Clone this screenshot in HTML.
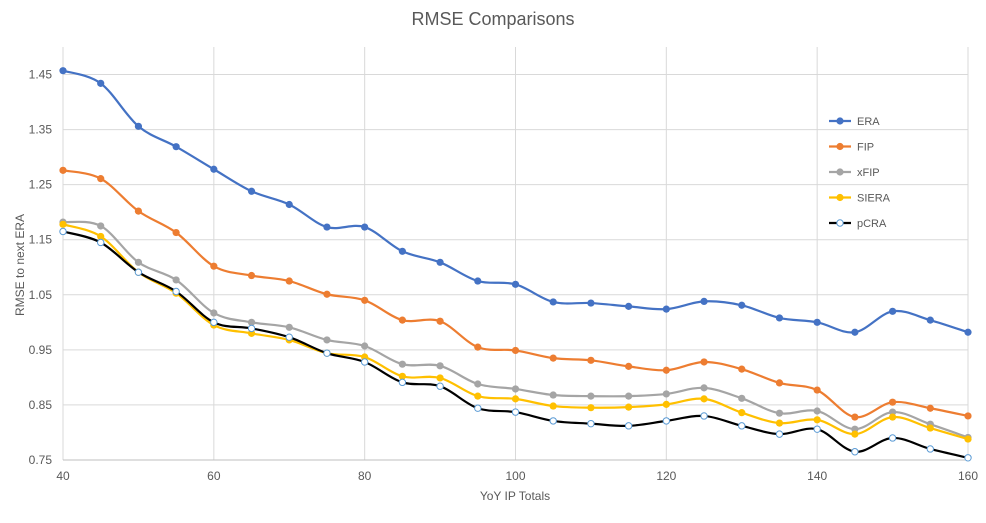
<!DOCTYPE html>
<html><head><meta charset="utf-8"><style>
body{margin:0;background:#fff;font-family:"Liberation Sans",sans-serif;}
svg text{font-family:"Liberation Sans",sans-serif;fill:#595959;}
</style></head><body>
<svg id="chart" width="986" height="518">
<text x="493" y="25" font-size="18" text-anchor="middle">RMSE Comparisons</text>
<g id="grid"></g><g id="axes"></g><g id="series"></g><g id="legend"></g>
<text transform="translate(24,265) rotate(-90)" font-size="12" text-anchor="middle">RMSE to next ERA</text>
<text x="515" y="500" font-size="12" text-anchor="middle">YoY IP Totals</text>
</svg>
<script>
const xValues=[40,45,50,55,60,65,70,75,80,85,90,95,100,105,110,115,120,125,130,135,140,145,150,155,160];
const seriesNames=["ERA","FIP","xFIP","SIERA","pCRA"];
const eraValues=[1.457,1.434,1.356,1.319,1.278,1.238,1.214,1.173,1.173,1.129,1.109,1.075,1.069,1.037,1.035,1.029,1.024,1.038,1.031,1.008,1.0,0.982,1.02,1.004,0.982];
const fipValues=[1.276,1.261,1.202,1.163,1.102,1.085,1.075,1.051,1.040,1.004,1.002,0.955,0.949,0.935,0.931,0.920,0.913,0.928,0.915,0.890,0.877,0.828,0.855,0.844,0.830];
const xfipValues=[1.182,1.175,1.109,1.077,1.017,1.0,0.991,0.968,0.957,0.924,0.921,0.888,0.879,0.868,0.866,0.866,0.870,0.881,0.862,0.835,0.839,0.806,0.837,0.815,0.791];
const sieraValues=[1.178,1.156,1.091,1.053,0.995,0.980,0.968,0.944,0.937,0.902,0.899,0.866,0.861,0.848,0.845,0.846,0.851,0.861,0.836,0.817,0.823,0.797,0.828,0.808,0.788];
const pcraValues=[1.165,1.145,1.091,1.056,1.0,0.989,0.973,0.944,0.928,0.891,0.884,0.844,0.837,0.821,0.816,0.812,0.821,0.830,0.812,0.797,0.806,0.765,0.790,0.770,0.754];
const xTicks=[40,60,80,100,120,140,160];
const yTicks=[0.75,0.85,0.95,1.05,1.15,1.25,1.35,1.45];
const colors=["#4472C4","#ED7D31","#A5A5A5","#FFC000","#000000"];
const allValues=[eraValues,fipValues,xfipValues,sieraValues,pcraValues];
const L=63,R=968,T=47,B=460;
const sx=v=>L+(v-40)/120*(R-L);
const sy=v=>B-(v-0.75)/0.75*(B-T);
const NS="http://www.w3.org/2000/svg";
function mk(tag,attrs,parent){const e=document.createElementNS(NS,tag);for(const k in attrs)e.setAttribute(k,attrs[k]);parent.appendChild(e);return e;}
const grid=document.getElementById('grid'),axes=document.getElementById('axes'),ser=document.getElementById('series'),leg=document.getElementById('legend');
yTicks.forEach(t=>{
 const l=mk('line',{x1:L,x2:R,y1:sy(t),y2:sy(t),stroke:'#D9D9D9','stroke-width':1},grid);
 
 
 const tx=mk('text',{x:52,y:sy(t)+4,'font-size':12,'text-anchor':'end'},axes);tx.textContent=t.toFixed(2);
 
 
});
xTicks.forEach(t=>{
 const l=mk('line',{x1:sx(t),x2:sx(t),y1:T,y2:B,stroke:'#D9D9D9','stroke-width':1},grid);
 
 
 const tx=mk('text',{x:sx(t),y:480,'font-size':12,'text-anchor':'middle'},axes);tx.textContent=t;
 
 
});
const ax=mk('line',{x1:L,x2:R,y1:B,y2:B,stroke:'#BFBFBF'},axes);


function smooth(pts){let d=`M${pts[0][0]},${pts[0][1]}`;for(let i=0;i<pts.length-1;i++){const p0=pts[i-1]||pts[i],p1=pts[i],p2=pts[i+1],p3=pts[i+2]||p2;const k=6;d+=` C${p1[0]+(p2[0]-p0[0])/k},${p1[1]+(p2[1]-p0[1])/k} ${p2[0]-(p3[0]-p1[0])/k},${p2[1]-(p3[1]-p1[1])/k} ${p2[0]},${p2[1]}`;}return d;}
allValues.forEach((vals,si)=>{
 const g=mk('g',{},ser);
 
 
 const pts=vals.map((v,i)=>[sx(xValues[i]),sy(v)]);
 mk('path',{d:smooth(pts),fill:'none',stroke:colors[si],'stroke-width':2.2},g);
 pts.forEach(p=>{
  const c=si===4?mk('circle',{cx:p[0],cy:p[1],r:3.2,fill:'#fff',stroke:'#5B9BD5','stroke-width':1},g):mk('circle',{cx:p[0],cy:p[1],r:3.6,fill:colors[si]},g);
  
  
 });
 const ly=121+si*25.5;
 const lg=mk('g',{},leg);
 
 
 mk('line',{x1:829,x2:851,y1:ly,y2:ly,stroke:colors[si],'stroke-width':2.2},lg);
 if(si===4)mk('circle',{cx:840,cy:ly,r:3.2,fill:'#fff',stroke:'#5B9BD5'},lg);else mk('circle',{cx:840,cy:ly,r:3.6,fill:colors[si]},lg);
 const t=mk('text',{x:857,y:ly+4,'font-size':11},lg);t.textContent=seriesNames[si];
});
</script>
</body></html>
